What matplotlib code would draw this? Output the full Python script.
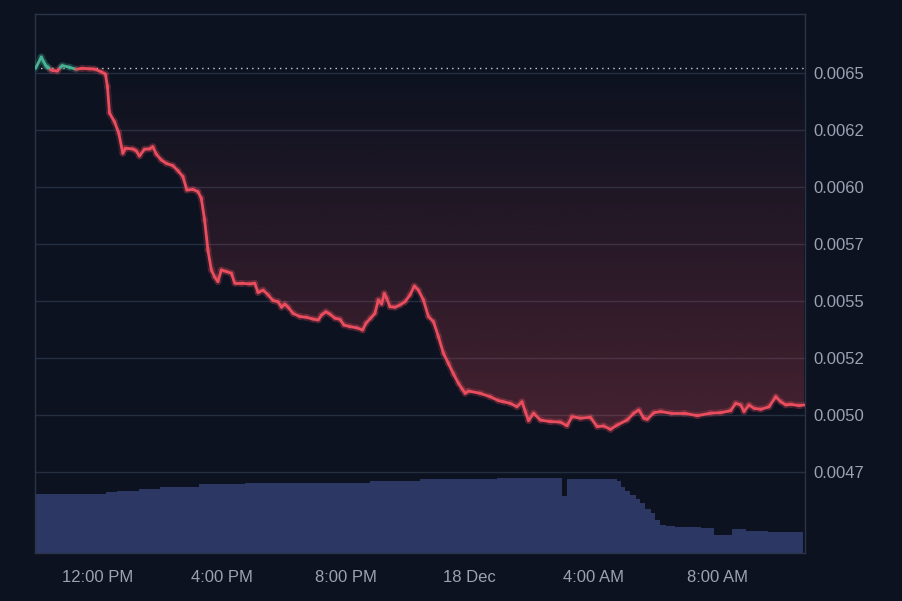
import numpy as np
import matplotlib
matplotlib.use("Agg")
import matplotlib.pyplot as plt
import matplotlib.dates as mdates
from matplotlib.collections import LineCollection
from matplotlib.patches import PathPatch
from datetime import datetime, timedelta

# price series: minutes after 17 Dec 10:00
price_minutes = [
    0, 11.0, 15.9, 20.2, 23.7, 28.5, 32.4, 42.1, 47.9, 51.8, 65.3, 78.3, 90.5, 104.1,
    113.8, 126.8, 135.1, 139.0, 142.9, 152.6, 160.9, 168.7, 173.9, 188.0, 194.6, 201.0,
    210.7, 220.4, 226.8, 233.4, 243.1, 252.8, 265.6, 275.3, 285.0, 292.7, 304.4, 314.1,
    320.6, 327.0, 333.4, 340.0, 346.4, 352.8, 359.4, 369.1, 378.8, 385.2, 398.2, 414.3,
    424.0, 430.4, 440.1, 449.8, 459.5, 469.1, 475.7, 482.1, 488.5, 498.2, 511.2, 524.2,
    537.0, 546.7, 553.3, 561.6, 569.4, 579.1, 588.8, 596.5, 608.2, 621.1, 632.8, 639.2,
    648.3, 656.6, 663.0, 669.6, 674.6, 679.3, 685.7, 695.4, 705.1, 714.8, 724.5, 732.8,
    740.6, 750.3, 760.0, 769.7, 779.4, 789.1, 798.7, 808.4, 818.1, 825.3, 831.1, 837.5,
    860.2, 879.5, 895.6, 905.3, 918.3, 931.3, 941.0, 947.4, 953.8, 963.5, 976.5, 995.9,
    1015.2, 1028.2, 1037.9, 1054.0, 1073.4, 1086.4, 1099.2, 1112.2, 1125.2, 1144.6,
    1157.4, 1167.1, 1176.8, 1183.4, 1196.2, 1209.2, 1228.6, 1254.3, 1280.3, 1306.1,
    1325.5, 1344.8, 1354.5, 1364.2, 1370.6, 1380.3, 1390.0, 1403.0, 1419.1, 1432.0,
    1441.7, 1451.4, 1461.1, 1477.2, 1486.9,
]
prices = [
    0.006519, 0.006569, 0.006547, 0.006529, 0.006525, 0.006514, 0.006510, 0.006507,
    0.006523, 0.006531, 0.006524, 0.006515, 0.006519, 0.006517, 0.006516, 0.006504,
    0.006494, 0.006439, 0.006324, 0.006285, 0.006236, 0.006147, 0.006169, 0.006166,
    0.006158, 0.006135, 0.006165, 0.006166, 0.006176, 0.006144, 0.006118, 0.006103,
    0.006093, 0.006071, 0.006045, 0.005986, 0.005989, 0.005979, 0.005950, 0.005855,
    0.005724, 0.005636, 0.005605, 0.005585, 0.005636, 0.005629, 0.005622, 0.005578,
    0.005578, 0.005575, 0.005578, 0.005537, 0.005548, 0.005527, 0.005502, 0.005497,
    0.005473, 0.005487, 0.005473, 0.005446, 0.005432, 0.005429, 0.005421, 0.005417,
    0.005439, 0.005453, 0.005443, 0.005425, 0.005420, 0.005395, 0.005388, 0.005383,
    0.005373, 0.005403, 0.005425, 0.005446, 0.005505, 0.005487, 0.005534, 0.005512,
    0.005475, 0.005473, 0.005483, 0.005497, 0.005527, 0.005566, 0.005548, 0.005505,
    0.005432, 0.005410, 0.005344, 0.005271, 0.005227, 0.005181, 0.005140, 0.005115,
    0.005096, 0.005106, 0.005096, 0.005081, 0.005064, 0.005059, 0.005052, 0.005037,
    0.005059, 0.005016, 0.004976, 0.005009, 0.004979, 0.004972, 0.004970, 0.004954,
    0.004994, 0.004987, 0.004991, 0.004950, 0.004953, 0.004938, 0.004957, 0.004979,
    0.005009, 0.005023, 0.004987, 0.004982, 0.005011, 0.005016, 0.005009, 0.005009,
    0.004998, 0.005009, 0.005011, 0.005020, 0.005052, 0.005045, 0.005016, 0.005045,
    0.005030, 0.005026, 0.005037, 0.005081, 0.005059, 0.005045, 0.005048, 0.005042,
    0.005045,
]

# volume steps: start minute and level (arbitrary units)
volume_start_minutes = [
    0, 137, 157, 201, 240, 317, 405, 647, 744, 893, 1019, 1029, 1116, 1124, 1132,
    1141, 1151, 1161, 1170, 1180, 1190, 1199, 1209, 1219, 1238, 1287, 1312, 1347,
    1374, 1417,
]
volume_levels = [
    587, 610, 623, 637, 657, 687, 703, 720, 737, 750, 573, 743, 740, 720, 663,
    620, 580, 540, 497, 445, 397, 330, 285, 273, 260, 253, 180, 237, 223, 210,
]
volume_end_minute = 1485

ytick_values = [0.0065, 0.00625, 0.0060, 0.00575, 0.0055, 0.00525, 0.0050, 0.00475]
ytick_labels = ["0.0065", "0.0062", "0.0060", "0.0057", "0.0055", "0.0052", "0.0050", "0.0047"]
xtick_times = ["2024-12-17 12:00", "2024-12-17 16:00", "2024-12-17 20:00",
               "2024-12-18 00:00", "2024-12-18 04:00", "2024-12-18 08:00"]
xtick_labels = ["12:00 PM", "4:00 PM", "8:00 PM", "18 Dec", "4:00 AM", "8:00 AM"]

BG = "#0c1220"
GRID = "#252e3f"
TEXT = "#9aa2b3"
RED = "#ea4d5e"
GREEN = "#45b394"
BAR = "#2c3863"

plt.rcParams["font.family"] = ["Liberation Sans", "DejaVu Sans"]

start = datetime(2024, 12, 17, 10, 0)
t = mdates.date2num([start + timedelta(minutes=m) for m in price_minutes])
p = np.array(prices)
base = p[0]

fig = plt.figure(figsize=(9.02, 6.01), dpi=100, facecolor=BG)
rect = [35 / 902, 1 - 553 / 601, (805 - 35) / 902, (553 - 14) / 601]
ax_vol = fig.add_axes(rect)
ax = fig.add_axes(rect)
ax_vol.set_facecolor(BG)
ax.patch.set_visible(False)

# volume bars
vs = mdates.date2num([start + timedelta(minutes=m) for m in volume_start_minutes])
ve = np.append(vs[1:], mdates.date2num(start + timedelta(minutes=volume_end_minute)))
ax_vol.bar(vs, volume_levels, width=ve - vs, align="edge", color=BAR, linewidth=0)
ax_vol.set_ylim(0, 5390)
ax_vol.set_xlim(t[0] - 0.0008, t[-1] + 0.0012)
ax_vol.axis("off")

# price axis
ax.set_xlim(t[0] - 0.0008, t[-1] + 0.0012)
ax.set_ylim(0.0043968, 0.006757)
ax.set_yticks(ytick_values)
ax.set_yticklabels(ytick_labels)
ax.yaxis.tick_right()
ax.set_xticks(mdates.date2num([datetime.strptime(s, "%Y-%m-%d %H:%M") for s in xtick_times]))
ax.set_xticklabels(xtick_labels)
ax.tick_params(axis="both", length=0, colors=TEXT, labelsize=12)
ax.tick_params(axis="x", pad=12)
ax.tick_params(axis="y", pad=6)
ax.grid(axis="y", color=GRID, linewidth=1)
ax.set_axisbelow(True)
for s in ax.spines.values():
    s.set_color("#2a3446")
    s.set_linewidth(1)

# gradient fill between line and starting price
poly = ax.fill_between(t, np.minimum(p, base), base, facecolor="none", edgecolor="none")
clip = PathPatch(poly.get_paths()[0], transform=ax.transData, facecolor="none", edgecolor="none")
ax.add_patch(clip)
grad = np.zeros((256, 1, 4))
grad[..., :3] = matplotlib.colors.to_rgb(RED)
grad[:, 0, 3] = np.linspace(0.26, 0.0, 256)
im = ax.imshow(grad, extent=[t[0], t[-1], p.min(), base], origin="lower",
               aspect="auto", zorder=1, interpolation="bilinear")
im.set_clip_path(clip)
poly.remove()

# dotted starting price line
ax.axhline(base, color="#c8cdd6", linestyle=(0, (1, 3)), linewidth=1, zorder=2)

# coloured price line
pts = np.column_stack([t, p])
segs = np.stack([pts[:-1], pts[1:]], axis=1)
mid = (p[:-1] + p[1:]) / 2
cols = [GREEN if m > base else RED for m in mid]
ax.add_collection(LineCollection(segs, colors=cols, linewidths=5, alpha=0.18, zorder=3,
                                 capstyle="round", joinstyle="round"))
ax.add_collection(LineCollection(segs, colors=cols, linewidths=2, zorder=4,
                                 capstyle="round", joinstyle="round"))

fig.savefig("out.png", dpi=100, facecolor=BG)
